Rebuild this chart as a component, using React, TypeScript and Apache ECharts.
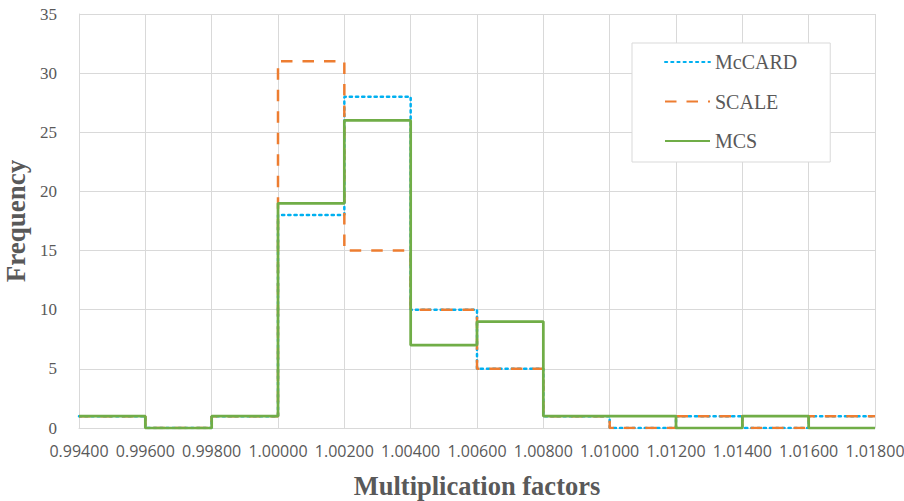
import React, { useEffect, useRef } from "react";
import * as echarts from "echarts";

const binEdges = [0.994, 0.996, 0.998, 1.0, 1.002, 1.004, 1.006, 1.008, 1.01, 1.012, 1.014, 1.016, 1.018];
const seriesNames = ["McCARD", "SCALE", "MCS"];
const mccard = [1, 0, 1, 18, 28, 10, 5, 1, 0, 1, 0, 1];
const scale = [1, 0, 1, 31, 15, 10, 5, 1, 0, 1, 0, 1];
const mcs = [1, 0, 1, 19, 26, 7, 9, 1, 1, 0, 1, 0];

const GRAY = "#595959";
const GRID = "#D9D9D9";
const SERIF = "'Liberation Serif', 'Times New Roman', serif";

function toSteps(values: number[]) {
  const pts: number[][] = values.map((v, i) => [binEdges[i], v]);
  pts.push([binEdges[binEdges.length - 1], values[values.length - 1]]);
  return pts;
}

export default function App() {
  const ref = useRef<HTMLDivElement>(null);
  useEffect(() => {
    if (!ref.current) return;
    const chart = echarts.init(ref.current, null, { renderer: "svg" });
    chart.setOption({
      animation: false,
      backgroundColor: "#ffffff",
      grid: { left: 79, right: 29, top: 14, bottom: 73, containLabel: false, outerBoundsMode: "none" },
      legend: {
        orient: "vertical",
        left: 632,
        top: 43,
        padding: [9, 33, 11, 32],
        itemWidth: 45,
        itemHeight: 20,
        itemGap: 19.5,
        backgroundColor: "#ffffff",
        borderColor: GRID,
        borderWidth: 1,
        itemStyle: { opacity: 0, borderWidth: 0 },
        textStyle: { fontFamily: SERIF, fontSize: 20, color: GRAY },
        data: seriesNames,
      },
      xAxis: {
        type: "value",
        min: 0.994,
        max: 1.018,
        interval: 0.002,
        name: "Multiplication factors",
        nameLocation: "middle",
        nameGap: 44,
        nameTextStyle: { fontFamily: SERIF, fontSize: 26.5, fontWeight: "bold", color: GRAY },
        axisLine: { show: true, lineStyle: { color: GRID, width: 1 } },
        axisTick: { show: false },
        axisLabel: {
          fontFamily: "'Open Sans', sans-serif",
          fontSize: 16,
          color: GRAY,
          margin: 15,
          hideOverlap: false,
          showMinLabel: true,
          showMaxLabel: true,
          formatter: (v: number) => v.toFixed(5),
        },
        splitLine: { show: true, lineStyle: { color: GRID, width: 1 } },
      },
      yAxis: {
        type: "value",
        min: 0,
        max: 35,
        interval: 5,
        name: "Frequency",
        nameLocation: "middle",
        nameGap: 38,
        nameTextStyle: { fontFamily: SERIF, fontSize: 27, fontWeight: "bold", color: GRAY },
        axisLine: { show: true, lineStyle: { color: GRID, width: 1 } },
        axisTick: { show: false },
        axisLabel: { fontFamily: SERIF, fontSize: 17, color: GRAY, margin: 22 },
        splitLine: { show: true, lineStyle: { color: GRID, width: 1 } },
      },
      series: [
        {
          name: seriesNames[0],
          type: "line",
          step: "end",
          symbol: "none",
          data: toSteps(mccard),
          itemStyle: { color: "#00B0F0" },
          lineStyle: { color: "#00B0F0", width: 2.5, type: [2.2, 4], cap: "round" },
        },
        {
          name: seriesNames[1],
          type: "line",
          step: "end",
          symbol: "none",
          data: toSteps(scale),
          itemStyle: { color: "#ED7D31" },
          lineStyle: { color: "#ED7D31", width: 2.5, type: [11.5, 10] },
        },
        {
          name: seriesNames[2],
          type: "line",
          step: "end",
          symbol: "none",
          data: toSteps(mcs),
          itemStyle: { color: "#70AD47" },
          lineStyle: { color: "#70AD47", width: 2.75, type: "solid" },
        },
      ],
    });
    return () => chart.dispose();
  }, []);
  return (
    <div
      ref={ref}
      style={{ position: "fixed", left: 0, top: 0, width: 904, height: 501, background: "#fff" }}
    />
  );
}
